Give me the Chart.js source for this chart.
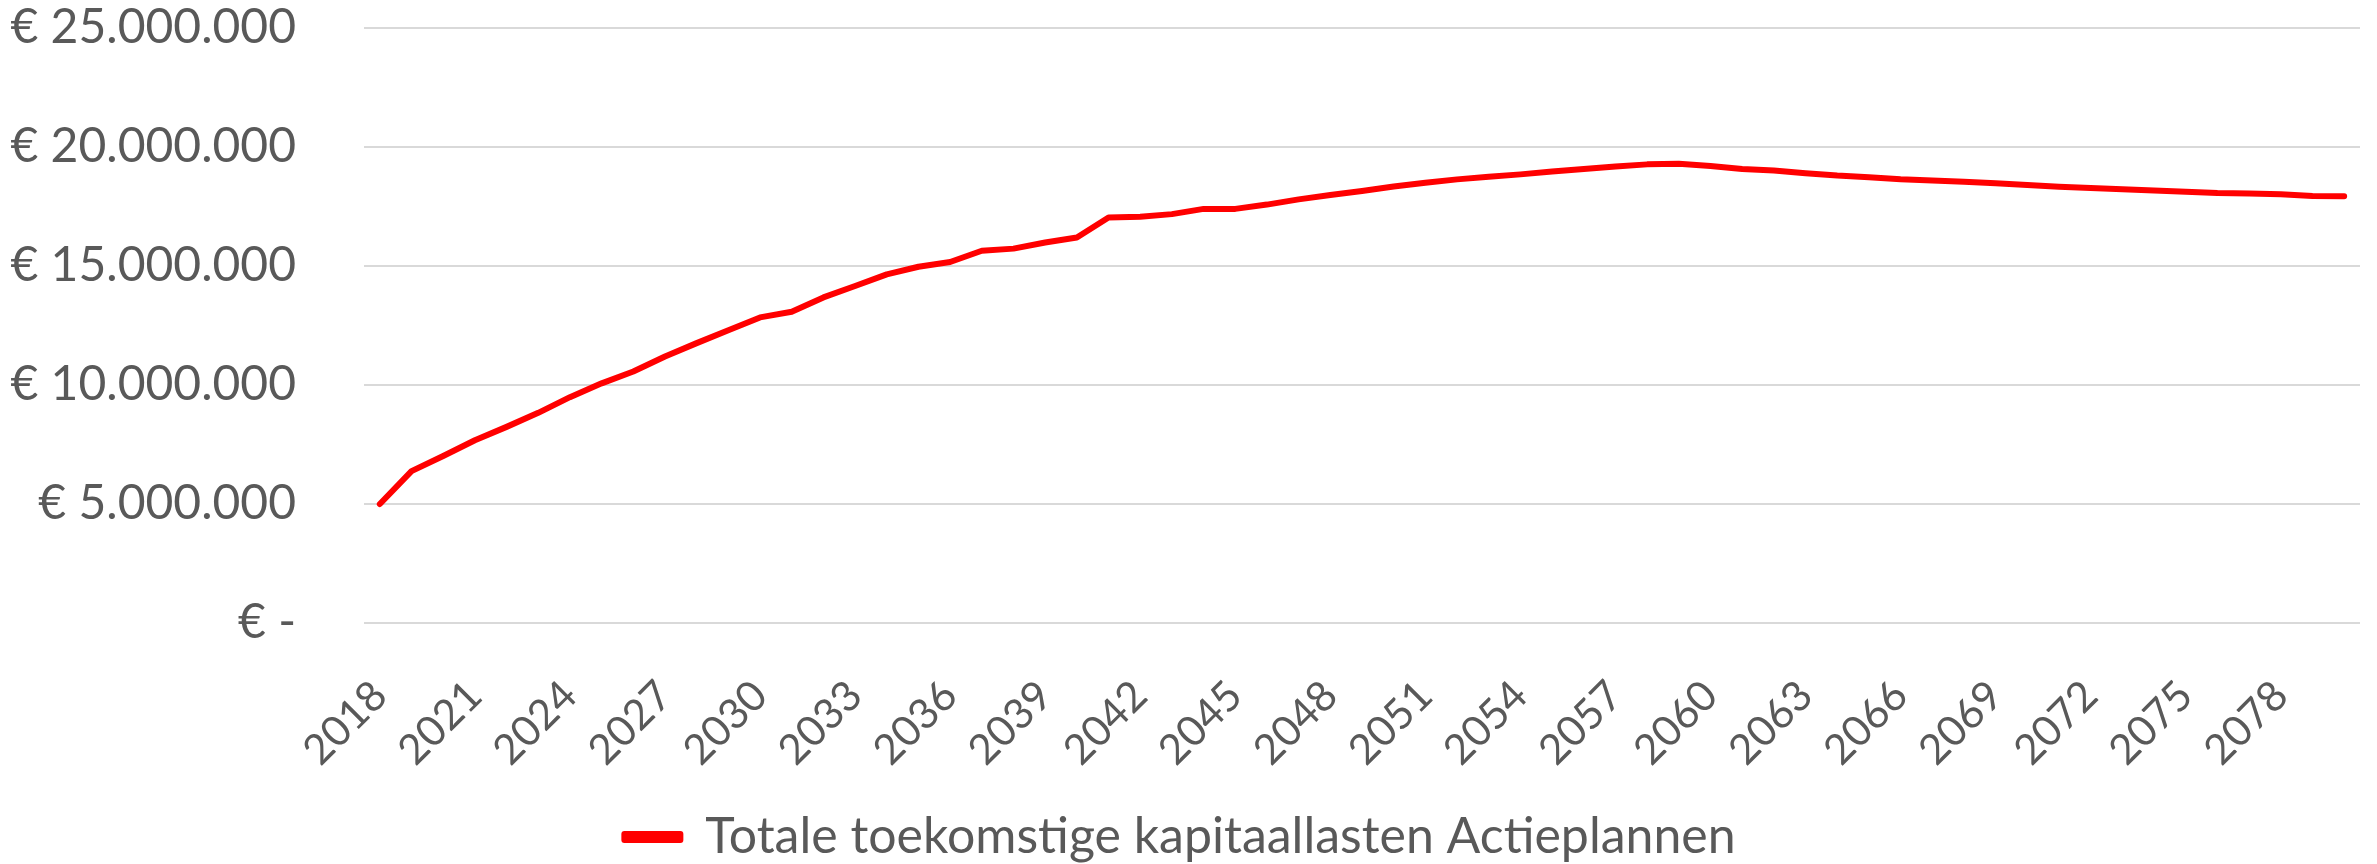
<!DOCTYPE html>
<html>
<head>
<meta charset="utf-8">
<script src="https://cdn.jsdelivr.net/npm/chart.js@4"></script>
<style>
  body { margin: 0; background: #fff; }
</style>
</head>
<body>
<canvas id="kapitaal" width="2377" height="864"></canvas>
<script>
const years = [];
for (let y = 2018; y <= 2080; y++) years.push(String(y));

const seriesLabel = 'Totale toekomstige kapitaallasten Actieplannen';

// kapitaallasten per jaar in euro's
const kapitaallasten = [
    5000000, 6380000, 7020000, 7680000, 8240000, 8830000, 9490000, 10070000,
    10570000, 11200000, 11760000, 12300000, 12840000, 13080000, 13680000, 14160000,
    14650000, 14970000, 15170000, 15640000, 15730000, 15990000, 16200000, 17040000,
    17070000, 17180000, 17400000, 17400000, 17580000, 17800000, 17980000, 18150000,
    18340000, 18500000, 18640000, 18750000, 18850000, 18970000, 19080000, 19180000,
    19270000, 19300000, 19200000, 19080000, 19010000, 18900000, 18800000, 18730000,
    18640000, 18590000, 18540000, 18480000, 18400000, 18330000, 18280000, 18220000,
    18170000, 18120000, 18070000, 18050000, 18010000, 17940000, 17930000
];

const yTicks = [0, 5000000, 10000000, 15000000, 20000000, 25000000];

const textColor = '#595959';
const fontFamily = 'Lato, "Open Sans", sans-serif';

function euro(value) {
    if (value === 0) return '€ -';
    return '€ ' + String(value).replace(/\B(?=(\d{3})+(?!\d))/g, '.');
}

new Chart(document.getElementById('kapitaal'), {
    type: 'line',
    data: {
        labels: years,
        datasets: [{
            label: seriesLabel,
            data: kapitaallasten,
            borderColor: '#FF0000',
            backgroundColor: '#FF0000',
            borderWidth: 6,
            pointRadius: 0,
            tension: 0,
            borderCapStyle: 'round',
            borderJoinStyle: 'round'
        }]
    },
    options: {
        responsive: false,
        animation: false,
        // negatieve onderrand: legend in v4 rekent zelf nog 10px extra hoogte
        layout: { padding: { top: 28, right: 17, left: 0, bottom: -8 } },
        plugins: {
            tooltip: { enabled: false },
            legend: {
                position: 'bottom',
                labels: {
                    color: textColor,
                    font: { family: fontFamily, size: 50, lineHeight: 1 },
                    boxWidth: 56,
                    boxHeight: 6,
                    padding: 0
                }
            }
        },
        scales: {
            x: {
                offset: true,
                grid: { display: false },
                border: { display: false },
                ticks: {
                    autoSkip: false,
                    maxRotation: 45,
                    minRotation: 45,
                    padding: 40,
                    color: textColor,
                    font: { family: fontFamily, size: 42 },
                    callback: function(value, index) {
                        return index % 3 === 0 ? years[index] : '';
                    }
                },
                afterFit: function(scale) {
                    scale.height = 189;
                    scale.paddingLeft = 0;
                    scale.paddingRight = 0;
                }
            },
            y: {
                min: 0,
                max: 25000000,
                afterBuildTicks: function(scale) {
                    scale.ticks = yTicks.map(v => ({ value: v }));
                },
                grid: { color: '#D9D9D9', lineWidth: 2, drawTicks: false },
                border: { display: false },
                ticks: {
                    padding: 68,
                    color: textColor,
                    font: { family: fontFamily, size: 48 },
                    callback: function(value) { return euro(value); }
                },
                afterFit: function(scale) {
                    scale.width = 364;
                    scale.paddingTop = 0;
                    scale.paddingBottom = 0;
                }
            }
        }
    }
});
</script>
</body>
</html>
